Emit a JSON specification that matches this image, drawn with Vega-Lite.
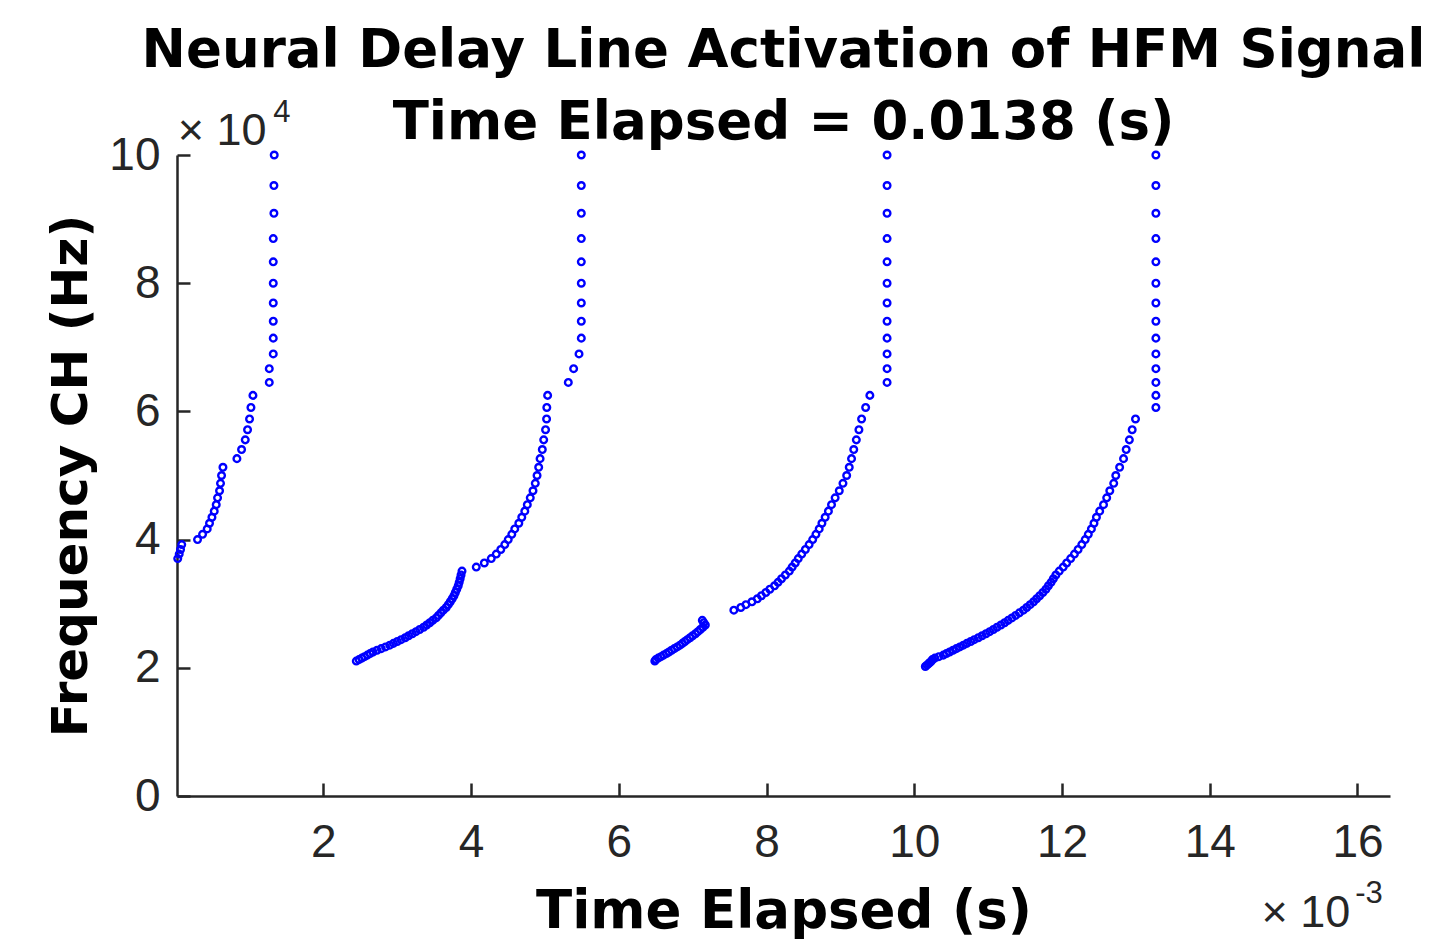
{
  "$schema": "https://vega.github.io/schema/vega-lite/v6.json",
  "width": 1213,
  "height": 641,
  "autosize": {"type": "none"},
  "padding": {"left": 177, "top": 155, "right": 47, "bottom": 149},
  "background": "white",
  "config": {"view": {"stroke": null}},
  "title": {
    "text": ["Neural Delay Line Activation of HFM Signal", "Time Elapsed = 0.0138 (s)"],
    "font": "DejaVu Sans", "fontSize": 53, "fontWeight": "bold", "color": "#000000",
    "lineHeight": 72, "anchor": "middle", "frame": "group", "baseline": "bottom", "offset": -106
  },
  "datasets": {
    "spikes": [
      {"t":0.030,"f":3.704},{"t":0.050,"f":3.774},{"t":0.068,"f":3.846},{"t":0.084,"f":3.922},{"t":0.298,"f":4.0},{"t":0.366,"f":4.082},{"t":0.429,"f":4.167},{"t":0.460,"f":4.255},{"t":0.493,"f":4.348},{"t":0.524,"f":4.444},{"t":0.551,"f":4.545},{"t":0.569,"f":4.651},{"t":0.596,"f":4.762},{"t":0.609,"f":4.878},{"t":0.623,"f":5.0},{"t":0.642,"f":5.128},{"t":0.831,"f":5.263},{"t":0.894,"f":5.405},{"t":0.944,"f":5.556},{"t":0.975,"f":5.714},{"t":1.002,"f":5.882},{"t":1.021,"f":6.061},{"t":1.048,"f":6.25},{"t":1.269,"f":6.452},{"t":1.269,"f":6.667},{"t":1.323,"f":6.897},{"t":1.323,"f":7.143},{"t":1.323,"f":7.407},{"t":1.323,"f":7.692},{"t":1.323,"f":8.0},{"t":1.323,"f":8.333},{"t":1.323,"f":8.696},{"t":1.332,"f":9.091},{"t":1.332,"f":9.524},{"t":1.336,"f":10.0},

      {"t":2.447,"f":2.105},{"t":2.484,"f":2.128},{"t":2.522,"f":2.151},{"t":2.559,"f":2.174},{"t":2.597,"f":2.198},{"t":2.633,"f":2.222},{"t":2.673,"f":2.247},{"t":2.728,"f":2.273},{"t":2.785,"f":2.299},{"t":2.843,"f":2.326},{"t":2.900,"f":2.353},{"t":2.950,"f":2.381},{"t":3.002,"f":2.410},{"t":3.054,"f":2.439},{"t":3.109,"f":2.469},{"t":3.155,"f":2.5},{"t":3.205,"f":2.532},{"t":3.255,"f":2.564},{"t":3.305,"f":2.597},{"t":3.358,"f":2.632},{"t":3.400,"f":2.667},{"t":3.442,"f":2.703},{"t":3.482,"f":2.740},{"t":3.528,"f":2.778},{"t":3.559,"f":2.817},{"t":3.592,"f":2.857},{"t":3.626,"f":2.899},{"t":3.664,"f":2.941},{"t":3.692,"f":2.985},{"t":3.719,"f":3.030},{"t":3.745,"f":3.077},{"t":3.769,"f":3.125},{"t":3.788,"f":3.175},{"t":3.807,"f":3.226},{"t":3.827,"f":3.279},{"t":3.840,"f":3.333},{"t":3.853,"f":3.390},{"t":3.865,"f":3.448},{"t":3.878,"f":3.509},
      {"t":4.071,"f":3.571},{"t":4.180,"f":3.636},{"t":4.274,"f":3.704},{"t":4.342,"f":3.774},{"t":4.403,"f":3.846},{"t":4.457,"f":3.922},{"t":4.504,"f":4.0},{"t":4.552,"f":4.082},{"t":4.592,"f":4.167},{"t":4.647,"f":4.255},{"t":4.687,"f":4.348},{"t":4.728,"f":4.444},{"t":4.762,"f":4.545},{"t":4.802,"f":4.651},{"t":4.839,"f":4.762},{"t":4.870,"f":4.878},{"t":4.894,"f":5.0},{"t":4.916,"f":5.128},{"t":4.935,"f":5.263},{"t":4.965,"f":5.405},{"t":4.984,"f":5.556},{"t":5.009,"f":5.714},{"t":5.023,"f":5.882},{"t":5.026,"f":6.061},{"t":5.037,"f":6.25},
      {"t":5.317,"f":6.452},{"t":5.389,"f":6.667},{"t":5.462,"f":6.897},{"t":5.493,"f":7.143},{"t":5.493,"f":7.407},{"t":5.493,"f":7.692},{"t":5.493,"f":8.0},{"t":5.493,"f":8.333},{"t":5.493,"f":8.696},{"t":5.493,"f":9.091},{"t":5.493,"f":9.524},{"t":5.493,"f":10.0},

      {"t":6.488,"f":2.105},{"t":6.502,"f":2.128},{"t":6.534,"f":2.151},{"t":6.571,"f":2.174},{"t":6.607,"f":2.198},{"t":6.645,"f":2.222},{"t":6.679,"f":2.247},{"t":6.715,"f":2.273},{"t":6.752,"f":2.299},{"t":6.791,"f":2.326},{"t":6.829,"f":2.353},{"t":6.862,"f":2.381},{"t":6.895,"f":2.410},{"t":6.928,"f":2.439},{"t":6.965,"f":2.469},{"t":7.000,"f":2.5},{"t":7.038,"f":2.532},{"t":7.071,"f":2.564},{"t":7.104,"f":2.597},{"t":7.139,"f":2.632},{"t":7.172,"f":2.667},{"t":7.151,"f":2.703},{"t":7.131,"f":2.740},
      {"t":7.558,"f":2.899},{"t":7.652,"f":2.941},{"t":7.721,"f":2.985},{"t":7.803,"f":3.030},{"t":7.876,"f":3.077},{"t":7.931,"f":3.125},{"t":7.991,"f":3.175},{"t":8.045,"f":3.226},{"t":8.109,"f":3.279},{"t":8.156,"f":3.333},{"t":8.203,"f":3.390},{"t":8.255,"f":3.448},{"t":8.309,"f":3.509},{"t":8.347,"f":3.571},{"t":8.389,"f":3.636},{"t":8.430,"f":3.704},{"t":8.477,"f":3.774},{"t":8.526,"f":3.846},{"t":8.577,"f":3.922},{"t":8.625,"f":4.0},{"t":8.669,"f":4.082},{"t":8.713,"f":4.167},{"t":8.750,"f":4.255},{"t":8.794,"f":4.348},{"t":8.838,"f":4.444},{"t":8.880,"f":4.545},{"t":8.929,"f":4.651},{"t":8.985,"f":4.762},{"t":9.035,"f":4.878},{"t":9.085,"f":5.0},{"t":9.120,"f":5.128},{"t":9.151,"f":5.263},{"t":9.181,"f":5.405},{"t":9.216,"f":5.556},{"t":9.251,"f":5.714},{"t":9.287,"f":5.882},{"t":9.342,"f":6.061},{"t":9.399,"f":6.25},
      {"t":9.632,"f":6.452},{"t":9.632,"f":6.667},{"t":9.632,"f":6.897},{"t":9.632,"f":7.143},{"t":9.632,"f":7.407},{"t":9.632,"f":7.692},{"t":9.632,"f":8.0},{"t":9.632,"f":8.333},{"t":9.632,"f":8.696},{"t":9.632,"f":9.091},{"t":9.632,"f":9.524},{"t":9.632,"f":10.0},

      {"t":10.150,"f":2.020},{"t":10.171,"f":2.041},{"t":10.191,"f":2.062},{"t":10.211,"f":2.083},{"t":10.232,"f":2.105},{"t":10.245,"f":2.128},{"t":10.279,"f":2.151},{"t":10.333,"f":2.174},{"t":10.394,"f":2.198},{"t":10.435,"f":2.222},{"t":10.479,"f":2.247},{"t":10.525,"f":2.273},{"t":10.570,"f":2.299},{"t":10.617,"f":2.326},{"t":10.665,"f":2.353},{"t":10.712,"f":2.381},{"t":10.764,"f":2.410},{"t":10.812,"f":2.439},{"t":10.867,"f":2.469},{"t":10.918,"f":2.5},{"t":10.971,"f":2.532},{"t":11.021,"f":2.564},{"t":11.071,"f":2.597},{"t":11.120,"f":2.632},{"t":11.173,"f":2.667},{"t":11.223,"f":2.703},{"t":11.271,"f":2.740},{"t":11.322,"f":2.778},{"t":11.372,"f":2.817},{"t":11.423,"f":2.857},{"t":11.477,"f":2.899},{"t":11.522,"f":2.941},{"t":11.568,"f":2.985},{"t":11.615,"f":3.030},{"t":11.656,"f":3.077},{"t":11.698,"f":3.125},{"t":11.741,"f":3.175},{"t":11.782,"f":3.226},{"t":11.816,"f":3.279},{"t":11.852,"f":3.333},{"t":11.883,"f":3.390},{"t":11.917,"f":3.448},{"t":11.963,"f":3.509},{"t":12.016,"f":3.571},{"t":12.063,"f":3.636},{"t":12.117,"f":3.704},{"t":12.168,"f":3.774},{"t":12.218,"f":3.846},{"t":12.268,"f":3.922},{"t":12.314,"f":4.0},{"t":12.356,"f":4.082},{"t":12.398,"f":4.167},{"t":12.433,"f":4.255},{"t":12.466,"f":4.348},{"t":12.510,"f":4.444},{"t":12.562,"f":4.545},{"t":12.605,"f":4.651},{"t":12.647,"f":4.762},{"t":12.700,"f":4.878},{"t":12.728,"f":5.0},{"t":12.780,"f":5.128},{"t":12.833,"f":5.263},{"t":12.869,"f":5.405},{"t":12.912,"f":5.556},{"t":12.950,"f":5.714},{"t":12.995,"f":5.882},
      {"t":13.271,"f":6.061},{"t":13.271,"f":6.25},{"t":13.271,"f":6.452},{"t":13.271,"f":6.667},{"t":13.271,"f":6.897},{"t":13.271,"f":7.143},{"t":13.271,"f":7.407},{"t":13.271,"f":7.692},{"t":13.271,"f":8.0},{"t":13.271,"f":8.333},{"t":13.271,"f":8.696},{"t":13.271,"f":9.091},{"t":13.271,"f":9.524},{"t":13.271,"f":10.0}
    ],
    "multipliers": [
      {"t": 0.03, "f": 10.156, "s": "× 10"},
      {"t": 14.70, "f": -2.044, "s": "× 10"}
    ],
    "exponents": [
      {"t": 1.323, "f": 10.515, "s": "4"},
      {"t": 15.97, "f": -1.669, "s": "-3"}
    ]
  },
  "layer": [
    {
      "data": {"name": "spikes"},
      "mark": {"type": "point", "shape": "circle", "filled": false, "color": "#0000ff", "opacity": 1, "size": 44, "strokeWidth": 2.4},
      "encoding": {
        "x": {
          "field": "t", "type": "quantitative",
          "scale": {"domain": [0.02, 16.44], "nice": false, "zero": false},
          "axis": {
            "values": [2, 4, 6, 8, 10, 12, 14, 16], "format": "d",
            "title": "Time Elapsed (s)", "grid": false,
            "domainColor": "#262626", "domainWidth": 2.5,
            "tickColor": "#262626", "tickWidth": 2.5, "tickSize": -13,
            "labelFont": "Liberation Sans", "labelFontSize": 46, "labelColor": "#262626", "labelPadding": 37,
            "titleFont": "DejaVu Sans", "titleFontSize": 53, "titleFontWeight": "bold", "titleColor": "#000000", "titlePadding": 20
          }
        },
        "y": {
          "field": "f", "type": "quantitative",
          "scale": {"domain": [0, 10], "nice": false, "zero": false},
          "axis": {
            "values": [0, 2, 4, 6, 8, 10], "format": "d",
            "title": "Frequency CH (Hz)", "grid": false,
            "domainColor": "#262626", "domainWidth": 2.5,
            "tickColor": "#262626", "tickWidth": 2.5, "tickSize": -13,
            "labelFont": "Liberation Sans", "labelFontSize": 46, "labelColor": "#262626", "labelPadding": 30,
            "titleFont": "DejaVu Sans", "titleFontSize": 50, "titleFontWeight": "bold", "titleColor": "#000000", "titlePadding": 12
          }
        }
      }
    },
    {
      "data": {"name": "multipliers"},
      "mark": {"type": "text", "font": "Liberation Sans", "fontSize": 45, "color": "#262626", "align": "left", "baseline": "alphabetic"},
      "encoding": {
        "x": {"field": "t", "type": "quantitative"},
        "y": {"field": "f", "type": "quantitative"},
        "text": {"field": "s"}
      }
    },
    {
      "data": {"name": "exponents"},
      "mark": {"type": "text", "font": "Liberation Sans", "fontSize": 31, "color": "#262626", "align": "left", "baseline": "alphabetic"},
      "encoding": {
        "x": {"field": "t", "type": "quantitative"},
        "y": {"field": "f", "type": "quantitative"},
        "text": {"field": "s"}
      }
    }
  ]
}
